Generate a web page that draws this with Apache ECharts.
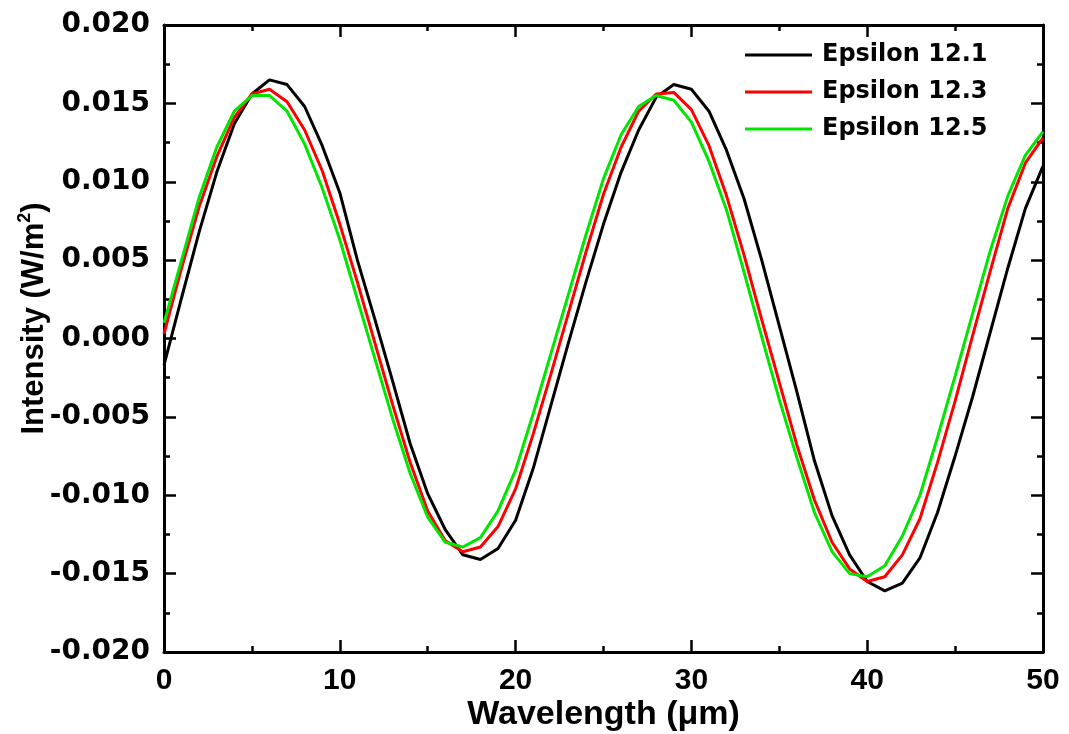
<!DOCTYPE html>
<html>
<head>
<meta charset="utf-8">
<script src="https://cdn.jsdelivr.net/npm/echarts@6/dist/echarts.min.js"></script>
<style>
  html, body { margin: 0; padding: 0; background: #ffffff; }
  #chart { width: 1069px; height: 734px; }
</style>
</head>
<body>
<div id="chart"></div>
<script>
// Wavelength sample points (µm)
const wavelength = [0,1,2,3,4,5,6,7,8,9,10,11,12,13,14,15,16,17,18,19,20,21,22,23,24,25,
  26,27,28,29,30,31,32,33,34,35,36,37,38,39,40,41,42,43,44,45,46,47,48,49,50];

// Intensity (W/m^2) for each permittivity value
const eps121 = [-0.0017,0.0026,0.0068,0.0106,0.0137,0.0156,0.0165,0.0162,0.0148,0.0123,
  0.0093,0.0050,0.0012,-0.0027,-0.0067,-0.0099,-0.0122,-0.0138,-0.0141,-0.0134,
  -0.0116,-0.0083,-0.0043,-0.0003,0.0036,0.0073,0.0106,0.0133,0.0154,0.0162,
  0.0159,0.0145,0.0120,0.0089,0.0050,0.0008,-0.0034,-0.0078,-0.0113,-0.0138,
  -0.0155,-0.0161,-0.0156,-0.0140,-0.0111,-0.0075,-0.0037,0.0004,0.0045,0.0083,0.0110];

const eps123 = [0.0003,0.0045,0.0084,0.0116,0.0141,0.0156,0.0159,0.0151,0.0133,0.0107,
  0.0073,0.0036,-0.0003,-0.0042,-0.0079,-0.0110,-0.0129,-0.0136,-0.0133,-0.0120,
  -0.0096,-0.0061,-0.0023,0.0016,0.0055,0.0092,0.0122,0.0145,0.0156,0.0157,
  0.0146,0.0123,0.0091,0.0053,0.0012,-0.0028,-0.0068,-0.0103,-0.0130,-0.0147,
  -0.0155,-0.0152,-0.0138,-0.0115,-0.0079,-0.0040,0.0002,0.0043,0.0083,0.0112,0.0128];

const eps125 = [0.0010,0.0050,0.0090,0.0122,0.0145,0.0155,0.0155,0.0145,0.0124,0.0096,
  0.0063,0.0025,-0.0013,-0.0051,-0.0086,-0.0114,-0.0130,-0.0133,-0.0127,-0.0110,
  -0.0084,-0.0048,-0.0010,0.0028,0.0066,0.0102,0.0130,0.0148,0.0155,0.0152,
  0.0138,0.0113,0.0082,0.0042,0.0001,-0.0039,-0.0076,-0.0111,-0.0136,-0.0150,
  -0.0152,-0.0145,-0.0126,-0.0100,-0.0063,-0.0024,0.0016,0.0056,0.0091,0.0117,0.0132];

const seriesNames = ['Epsilon 12.1', 'Epsilon 12.3', 'Epsilon 12.5'];
const seriesColors = ['#000000', '#ff0000', '#00e600'];
const seriesData = [eps121, eps123, eps125];

const chart = echarts.init(document.getElementById('chart'), null, { renderer: 'canvas' });

const axisLineStyle = { color: '#000', width: 3 };
const majorTick = { show: true, inside: true, length: 12, lineStyle: { color: '#000', width: 2.5 } };
const minorTick = { show: true, splitNumber: 2, length: 6, lineStyle: { color: '#000', width: 2.5 } };

const xBase = { type: 'value', min: 0, max: 50, interval: 10 };
const yBase = { type: 'value', min: -0.02, max: 0.02, interval: 0.005 };

const option = {
  animation: false,
  backgroundColor: '#ffffff',
  grid: { left: 164, right: 26, top: 25, bottom: 82, containLabel: false, outerBoundsMode: 'none' },
  legend: {
    orient: 'vertical',
    left: 745,
    top: 42,
    padding: 0,
    icon: 'rect',
    itemWidth: 67,
    itemHeight: 3,
    itemGap: 11,
    data: seriesNames,
    textStyle: {
      fontFamily: 'DejaVu Sans',
      fontWeight: 'bold',
      fontSize: 24,
      lineHeight: 26,
      color: '#000',
      padding: [0, 0, 0, 5]
    }
  },
  xAxis: [
    Object.assign({}, xBase, {
      position: 'bottom',
      name: 'Wavelength (\u03bcm)',
      nameLocation: 'middle',
      nameGap: 46,
      nameMoveOverlap: false,
      nameTextStyle: { fontFamily: 'Liberation Sans', fontWeight: 'bold', fontSize: 34, color: '#000' },
      axisLine: { show: true, onZero: false, lineStyle: axisLineStyle },
      axisTick: majorTick,
      minorTick: minorTick,
      splitLine: { show: false },
      axisLabel: { margin: 14, fontFamily: 'Liberation Sans', fontWeight: 'bold', fontSize: 30, color: '#000' }
    }),
    Object.assign({}, xBase, {
      position: 'top',
      axisLine: { show: true, onZero: false, lineStyle: axisLineStyle },
      axisTick: majorTick,
      minorTick: minorTick,
      splitLine: { show: false },
      axisLabel: { show: false }
    })
  ],
  yAxis: [
    Object.assign({}, yBase, {
      position: 'left',
      name: 'Intensity (W/m{sup|2})',
      nameLocation: 'middle',
      nameGap: 112,
      nameMoveOverlap: false,
      nameRotate: 90,
      nameTextStyle: {
        fontFamily: 'Liberation Sans', fontWeight: 'bold', fontSize: 31, color: '#000',
        lineHeight: 36,
        padding: [0, 0, 0, 40],
        rich: {
          sup: { fontFamily: 'Liberation Sans', fontWeight: 'bold', fontSize: 18, color: '#000', verticalAlign: 'top', lineHeight: 36, padding: [0, 0, 14, 0] }
        }
      },
      axisLine: { show: true, onZero: false, lineStyle: axisLineStyle },
      axisTick: majorTick,
      minorTick: minorTick,
      splitLine: { show: false },
      axisLabel: {
        margin: 14,
        fontFamily: 'DejaVu Sans', fontWeight: 'bold', fontSize: 28, color: '#000',
        formatter: function (v) { return v.toFixed(3); }
      }
    }),
    Object.assign({}, yBase, {
      position: 'right',
      axisLine: { show: true, onZero: false, lineStyle: axisLineStyle },
      axisTick: majorTick,
      minorTick: minorTick,
      splitLine: { show: false },
      axisLabel: { show: false }
    })
  ],
  series: seriesNames.map(function (name, i) {
    return {
      name: name,
      type: 'line',
      xAxisIndex: 0,
      yAxisIndex: 0,
      symbol: 'none',
      smooth: false,
      lineStyle: { color: seriesColors[i], width: 3 },
      itemStyle: { color: seriesColors[i] },
      data: wavelength.map(function (x, j) { return [x, seriesData[i][j]]; })
    };
  })
};

chart.setOption(option);
</script>
</body>
</html>
